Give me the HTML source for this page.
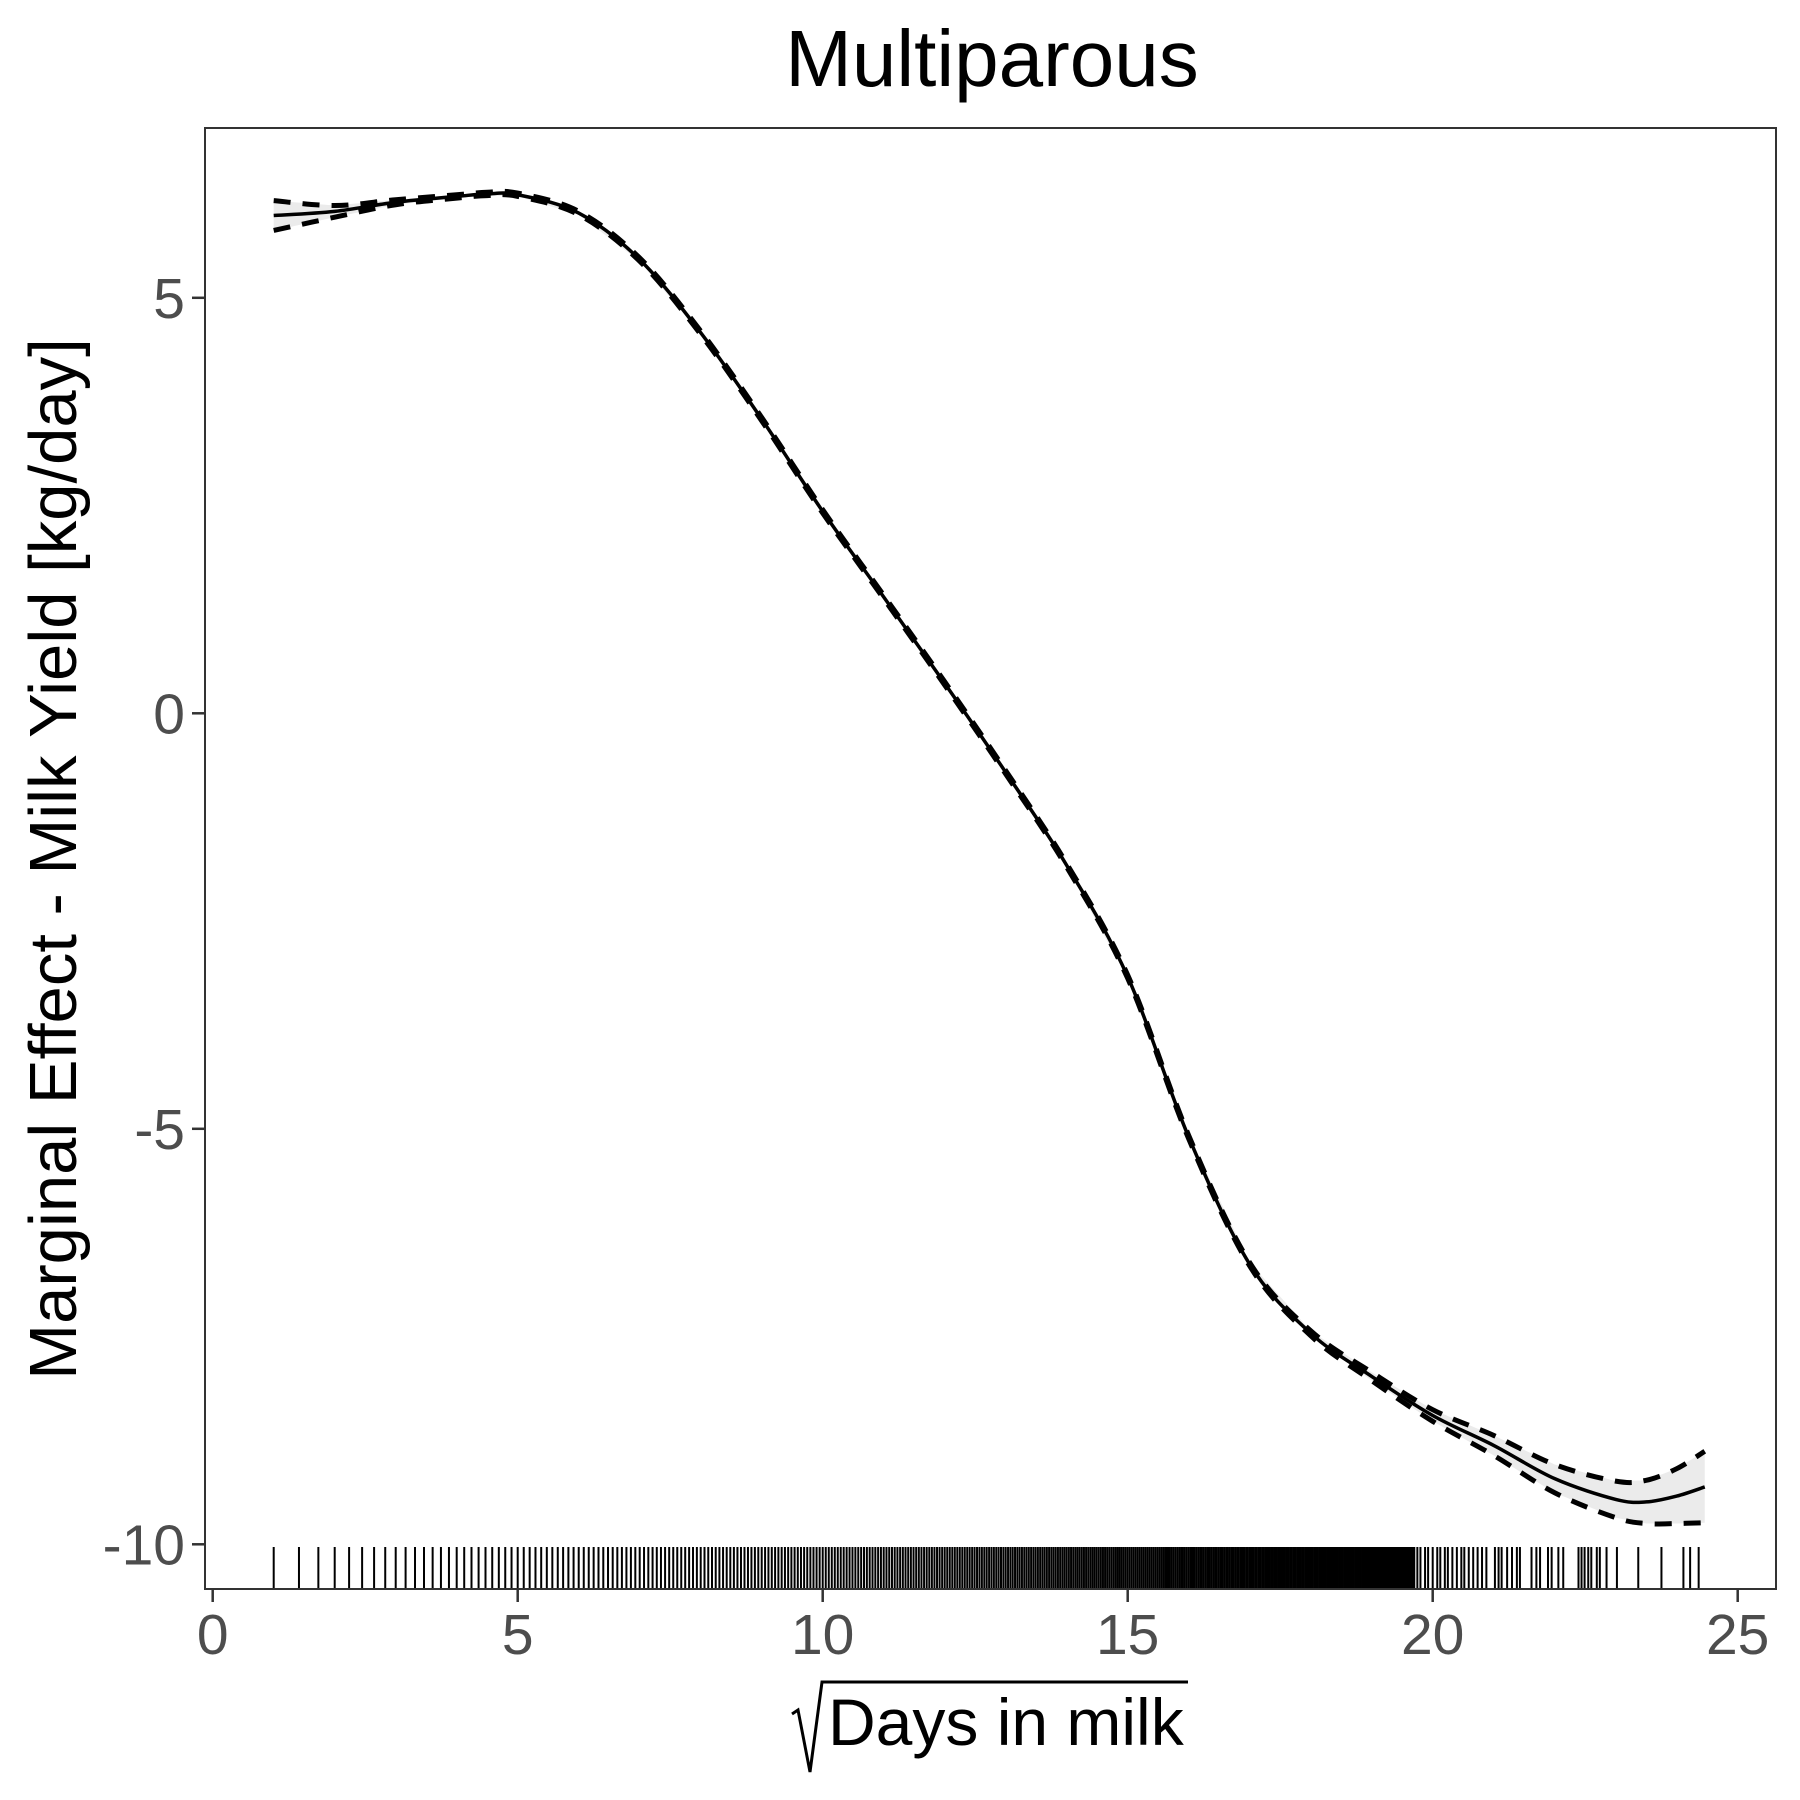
<!DOCTYPE html>
<html><head><meta charset="utf-8"><style>
html,body{margin:0;padding:0;background:#fff;}
svg{display:block;font-family:"Liberation Sans",sans-serif;}
</style></head><body>
<svg id="chart" width="1800" height="1800" viewBox="0 0 1800 1800">
<rect x="0" y="0" width="1800" height="1800" fill="#fff"/>
<text x="992" y="86" font-size="80" text-anchor="middle" fill="#000">Multiparous</text>
<g id="plot"></g>
<rect x="205" y="128" width="1571" height="1461" fill="none" stroke="#333" stroke-width="2"/>
<g id="axes"></g>
<text transform="translate(76,859) rotate(-90)" font-size="67" text-anchor="middle" fill="#000">Marginal Effect - Milk Yield [kg/day]</text>
<g>
<path d="M792,1714 L798,1710 L810,1772 L822,1682 L1188,1682" fill="none" stroke="#000" stroke-width="3"/>
<text x="828" y="1745" font-size="66" fill="#000">Days in milk</text>
</g>
</svg>
<script>
const xVals=[1,2,3,4,4.5,5,6,7,8,9,10,11,12,13,14,15,16,17,18,19,20,21,22,23,23.5,24,24.46];
const fitVals=[5.99,6.04,6.15,6.22,6.25,6.24,6.02,5.46,4.58,3.54,2.43,1.40,0.36,-0.71,-1.83,-3.17,-5.10,-6.63,-7.46,-7.98,-8.45,-8.81,-9.21,-9.46,-9.49,-9.42,-9.31];
const ciHalf=[0.18,0.07,0.03,0.02,0.02,0.02,0.02,0.02,0.02,0.02,0.02,0.02,0.02,0.02,0.02,0.02,0.02,0.02,0.03,0.05,0.07,0.12,0.17,0.22,0.26,0.33,0.43];
const xTicks=[0,5,10,15,20,25];
const yTicks=[5,0,-5,-10];
const yTickLabels=["5","0","-5","-10"];
const rugMaxDense=388;
const rugExtraDays=[390,392,395,397,400,403,405,408,410,413,416,419,421,424,427,430,433];
const rugExtraSqrt=[20.88,21.02,21.08,21.13,21.22,21.30,21.38,21.43,21.62,21.70,21.76,21.89,21.95,22.06,22.14,22.39,22.44,22.49,22.55,22.60,22.69,22.74,22.85,23.02,23.37,23.75,24.11,24.22,24.36];

const NS="http://www.w3.org/2000/svg";
const X=v=>212.7+v*61.0;
const Y=v=>713.3-v*83.1;
const plot=document.getElementById('plot');
const axes=document.getElementById('axes');
function mk(tag,attrs,parent){const e=document.createElementNS(NS,tag);for(const k in attrs)e.setAttribute(k,attrs[k]);parent.appendChild(e);return e;}

let up=xVals.map((x,i)=>X(x)+','+Y(fitVals[i]+ciHalf[i]));
let lo=xVals.map((x,i)=>X(x)+','+Y(fitVals[i]-ciHalf[i])).reverse();
const rib=mk('polygon',{points:up.concat(lo).join(' '),fill:'#ebebeb',stroke:'none'},plot);



function smooth(pts){
  let d='M'+pts[0][0]+','+pts[0][1];
  for(let i=0;i<pts.length-1;i++){
    const p0=pts[Math.max(0,i-1)],p1=pts[i],p2=pts[i+1],p3=pts[Math.min(pts.length-1,i+2)];
    const c1=[p1[0]+(p2[0]-p0[0])/6,p1[1]+(p2[1]-p0[1])/6];
    const c2=[p2[0]-(p3[0]-p1[0])/6,p2[1]-(p3[1]-p1[1])/6];
    d+=' C'+c1[0]+','+c1[1]+' '+c2[0]+','+c2[1]+' '+p2[0]+','+p2[1];
  }
  return d;
}
const upPts=xVals.map((x,i)=>[X(x),Y(fitVals[i]+ciHalf[i])]);
const loPts=xVals.map((x,i)=>[X(x),Y(fitVals[i]-ciHalf[i])]);
const fitPts=xVals.map((x,i)=>[X(x),Y(fitVals[i])]);
const u=mk('path',{d:smooth(upPts),fill:'none',stroke:'#000','stroke-width':5,'stroke-dasharray':'17,12'},plot);


const l=mk('path',{d:smooth(loPts),fill:'none',stroke:'#000','stroke-width':5,'stroke-dasharray':'17,12'},plot);


const f=mk('path',{d:smooth(fitPts),fill:'none',stroke:'#000','stroke-width':3.5},plot);



const rugG=mk('g',{},plot);


const rugVals=[];
for(let d=1;d<=rugMaxDense;d++)rugVals.push(Math.sqrt(d));
rugExtraDays.forEach(d=>rugVals.push(Math.sqrt(d)));
rugExtraSqrt.forEach(v=>rugVals.push(v));
rugVals.forEach(v=>{
  const x=X(v);
  const r=mk('line',{x1:x,x2:x,y1:1547,y2:1589,stroke:'#000','stroke-width':2},rugG);
  
  
});

xTicks.forEach(t=>{
  const x=X(t);
  const tk=mk('line',{x1:x,x2:x,y1:1589,y2:1602,stroke:'#333','stroke-width':2.5},axes);
  
  
  const tx=mk('text',{x:x,y:1654,'font-size':57,'text-anchor':'middle',fill:'#4d4d4d'},axes);
  tx.textContent=String(t);
  
  
});
yTicks.forEach((t,i)=>{
  const y=Y(t);
  const tk=mk('line',{x1:192,x2:205,y1:y,y2:y,stroke:'#333','stroke-width':2.5},axes);
  
  
  const tx=mk('text',{x:185,y:y+20,'font-size':57,'text-anchor':'end',fill:'#4d4d4d'},axes);
  tx.textContent=yTickLabels[i];
  
  
});
</script>
</body></html>
